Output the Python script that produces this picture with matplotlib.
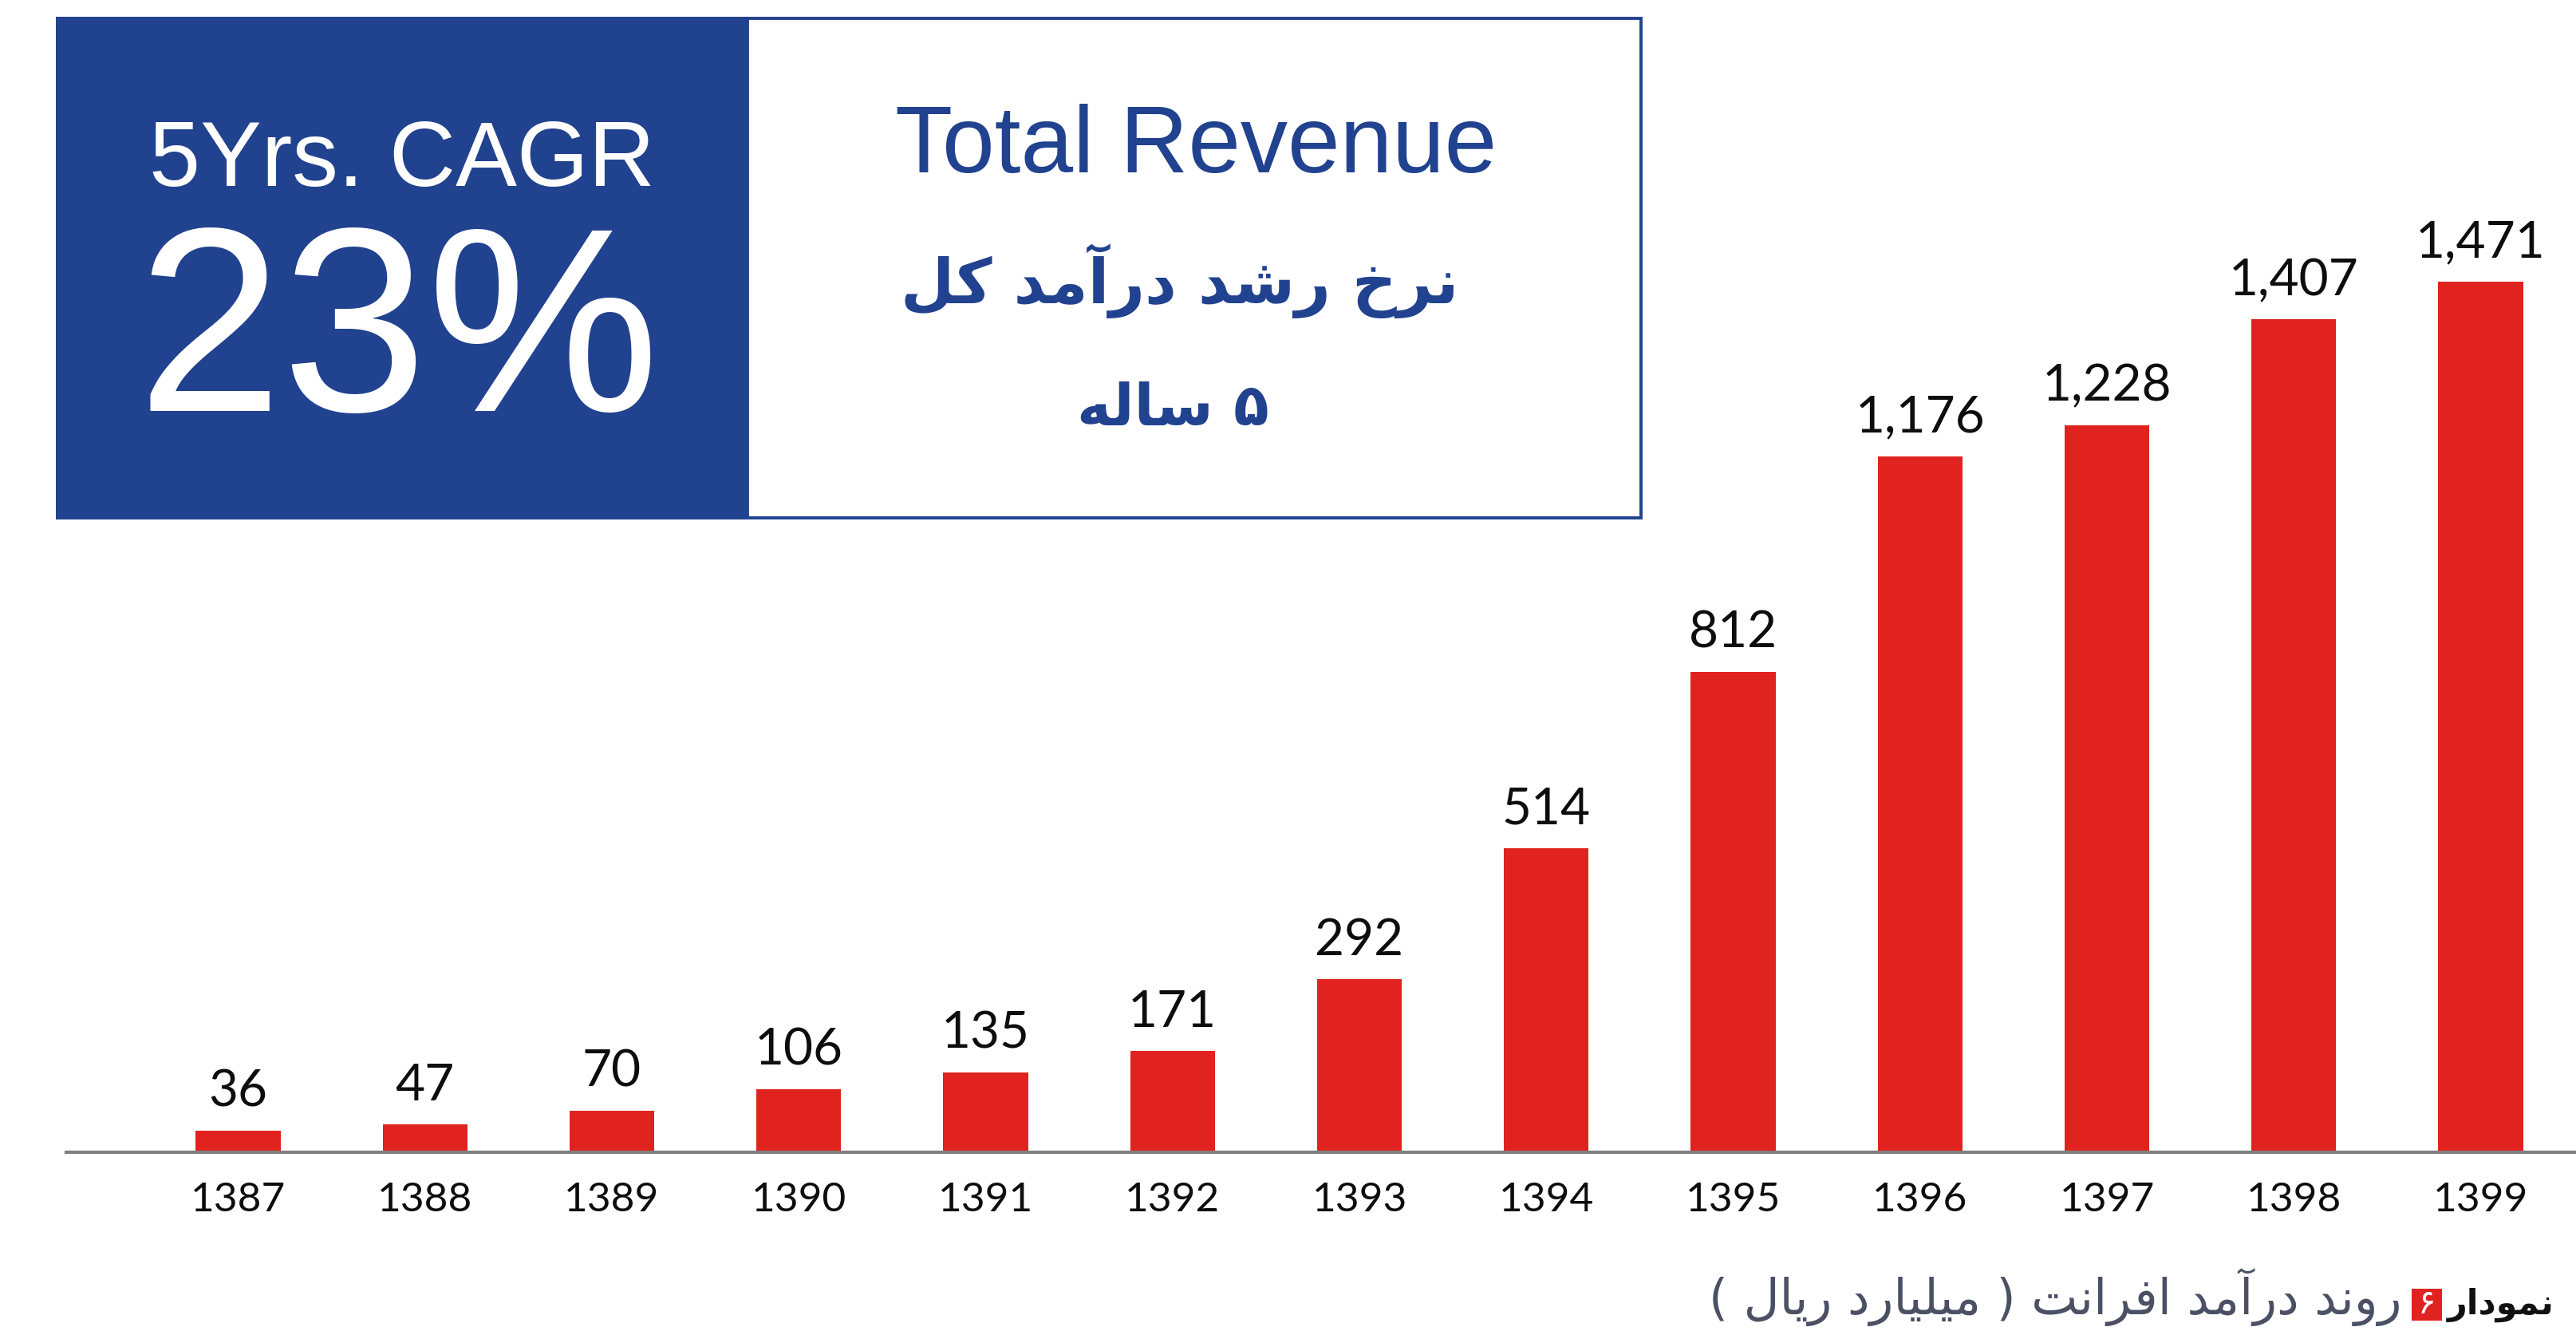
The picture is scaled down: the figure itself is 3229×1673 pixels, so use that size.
import matplotlib
matplotlib.use("Agg")
import matplotlib.pyplot as plt
from matplotlib.patches import Rectangle

# data
years = ["1387", "1388", "1389", "1390", "1391", "1392", "1393",
         "1394", "1395", "1396", "1397", "1398", "1399"]
revenue = [36, 47, 70, 106, 135, 171, 292, 514, 812, 1176, 1228, 1407, 1471]

cagr_label = "5Yrs. CAGR"
cagr_value = "23%"
title_en = "Total Revenue"
title_fa = "نرخ رشد درآمد کل"
subtitle_fa = "۵ ساله"
caption_word = "نمودار"
caption_num = "۶"
caption_text = "روند درآمد افرانت ( میلیارد ریال )"

BLUE = "#21428F"
RED = "#E0231F"

# matplotlib does no arabic shaping, so pick presentation forms by hand
FORMS = {
    'ا': ('\uFE8D', '\uFE8E', None, None),
    'آ': ('\uFE81', '\uFE82', None, None),
    'ت': ('\uFE95', '\uFE96', '\uFE97', '\uFE98'),
    'خ': ('\uFEA5', '\uFEA6', '\uFEA7', '\uFEA8'),
    'د': ('\uFEA9', '\uFEAA', None, None),
    'ر': ('\uFEAD', '\uFEAE', None, None),
    'س': ('\uFEB1', '\uFEB2', '\uFEB3', '\uFEB4'),
    'ش': ('\uFEB5', '\uFEB6', '\uFEB7', '\uFEB8'),
    'ف': ('\uFED1', '\uFED2', '\uFED3', '\uFED4'),
    'ل': ('\uFEDD', '\uFEDE', '\uFEDF', '\uFEE0'),
    'م': ('\uFEE1', '\uFEE2', '\uFEE3', '\uFEE4'),
    'ن': ('\uFEE5', '\uFEE6', '\uFEE7', '\uFEE8'),
    'ه': ('\uFEE9', '\uFEEA', '\uFEEB', '\uFEEC'),
    'و': ('\uFEED', '\uFEEE', None, None),
    'ی': ('\uFBFC', '\uFBFD', '\uFBFE', '\uFBFF'),
    'ک': ('\uFB8E', '\uFB8F', '\uFB90', '\uFB91'),
}


def shape(text):
    out = []
    for i, ch in enumerate(text):
        if ch not in FORMS:
            out.append(ch)
            continue
        prev = text[i - 1] if i > 0 else ''
        nxt = text[i + 1] if i + 1 < len(text) else ''
        join_prev = prev in FORMS and FORMS[prev][2] is not None
        join_next = FORMS[ch][2] is not None and nxt in FORMS
        iso, fin, ini, med = FORMS[ch]
        if join_prev and join_next:
            out.append(med)
        elif join_prev:
            out.append(fin)
        elif join_next:
            out.append(ini)
        else:
            out.append(iso)
    mirror = {'(': ')', ')': '('}
    return ''.join(mirror.get(c, c) for c in reversed(out))


W, H = 3229, 1673
fig = plt.figure(figsize=(W / 100, H / 100), dpi=100)
fig.patch.set_facecolor("white")

# bar chart
ax = fig.add_axes([83 / W, (H - 1444) / H, 1 - 83 / W, 1444 / H])
x = list(range(len(years)))
ax.bar(x, revenue, width=0.453, color=RED, zorder=2)
ax.set_xlim(-0.92, 12.51)
ax.set_ylim(0, 1947)
for s in ["top", "left", "right"]:
    ax.spines[s].set_visible(False)
ax.spines["bottom"].set_color("#808080")
ax.spines["bottom"].set_linewidth(3)
ax.spines["bottom"].set_zorder(3)
ax.set_yticks([])
ax.set_xticks(x, labels=years)
ax.tick_params(axis="x", length=0, pad=27, labelsize=37, labelcolor="#0d0d0d")
for lab in ax.get_xticklabels():
    lab.set_fontfamily("Lato")
for i, v in enumerate(revenue):
    ax.annotate(f"{v:,}", (i, v), xytext=(0, 22), textcoords="offset points",
                ha="center", va="baseline", fontsize=46, family="Lato",
                color="#0d0d0d")

# overlay in pixel coords for the box and caption
ov = fig.add_axes([0, 0, 1, 1], zorder=5)
ov.set_xlim(0, W)
ov.set_ylim(H, 0)
ov.axis("off")

ov.add_patch(Rectangle((70, 21), 867, 630, fc=BLUE, ec="none"))
ov.add_patch(Rectangle((937, 23), 1120, 626, fc="white", ec=BLUE, lw=2.8))

ov.text(504, 233, cagr_label, ha="center", va="baseline", fontsize=83,
        family="Liberation Sans", color="white")
ov.text(499, 515, cagr_value, ha="center", va="baseline", fontsize=236,
        family="Liberation Sans", color="white")
ov.text(1499, 216, title_en, ha="center", va="baseline", fontsize=85,
        family="Liberation Sans", color=BLUE)

rend = fig.canvas.get_renderer()


def fit(t, width_px):
    w = t.get_window_extent(rend).width
    t.set_fontsize(t.get_fontsize() * width_px / w)


t1 = ov.text(1479, 352, shape(title_fa), ha="center", va="center", fontsize=50,
             family="DejaVu Sans", fontweight="bold", color=BLUE)
fit(t1, 700)
t2 = ov.text(1470, 512, shape(subtitle_fa), ha="center", va="center", fontsize=50,
             family="DejaVu Sans", fontweight="bold", color=BLUE)
fit(t2, 241)

# caption
c1 = ov.text(3202, 1647, shape(caption_word), ha="right", va="baseline",
             fontsize=30, family="DejaVu Sans", fontweight="bold", color="#111111")
fit(c1, 134)
ov.add_patch(Rectangle((3023, 1615), 38, 40, fc=RED, ec="none"))
ov.text(3042, 1634, caption_num, ha="center", va="center", fontsize=30,
        family=["DejaVu Sans"], color="white")
c2 = ov.text(3011, 1647, shape(caption_text), ha="right", va="baseline",
             fontsize=30, family="DejaVu Sans", color="#4B5064")
fit(c2, 869)

fig.savefig("out.png", dpi=100, facecolor="white")
